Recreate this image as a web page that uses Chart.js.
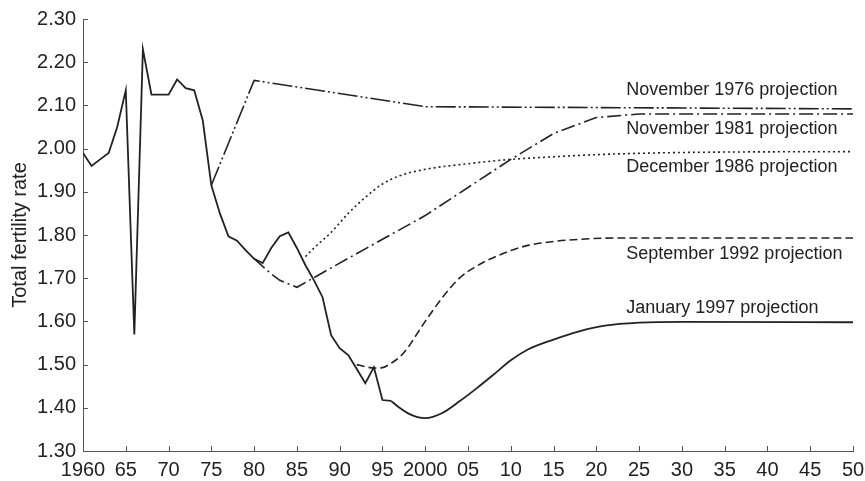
<!DOCTYPE html>
<html>
<head>
<meta charset="utf-8">
<script src="https://cdn.jsdelivr.net/npm/chart.js@4.4.1/dist/chart.umd.min.js"></script>
<style>
  html, body { margin: 0; padding: 0; background: #fff; }
  #wrap { width: 865px; height: 481px; }
</style>
</head>
<body>
<div id="wrap"><canvas id="tfrChart"></canvas></div>
<script>
// observed total fertility rate
var histYears = [1960, 1961, 1962, 1963, 1964, 1965, 1966, 1967, 1968, 1969, 1970, 1971, 1972, 1973, 1974, 1975, 1976, 1977, 1978, 1979,
  1980, 1981, 1982, 1983, 1984, 1985, 1986, 1987, 1988, 1989, 1990, 1991, 1992, 1993, 1994, 1995, 1996];
var histTFR = [1.99, 1.96, 1.975, 1.99, 2.05, 2.135, 1.57, 2.23, 2.125, 2.125, 2.125, 2.16, 2.14, 2.135, 2.065, 1.915, 1.85, 1.797, 1.787, 1.765,
  1.745, 1.735, 1.77, 1.797, 1.806, 1.77, 1.73, 1.695, 1.656, 1.568, 1.538, 1.522, 1.49, 1.457, 1.494, 1.418, 1.416];

// projections
var p1976Years = [1975, 1980, 2000, 2050];
var p1976TFR = [1.915, 2.158, 2.097, 2.092];

var p1981Years = [1980, 1982, 1983, 1985, 1990, 1995, 2000, 2005, 2010, 2015, 2020, 2025, 2050];
var p1981TFR = [1.745, 1.71, 1.695, 1.679, 1.735, 1.79, 1.845, 1.91, 1.975, 2.035, 2.072, 2.08, 2.08];

var p1986Years = [1986, 1987, 1989, 1991, 1993, 1995, 1997, 2000, 2005, 2010, 2015, 2020, 2030, 2050];
var p1986TFR = [1.75, 1.77, 1.806, 1.85, 1.887, 1.918, 1.937, 1.952, 1.965, 1.975, 1.981, 1.986, 1.991, 1.993];

var p1992Years = [1992, 1993, 1994, 1995, 1996, 1997, 1998, 1999, 2000, 2002, 2004, 2006, 2008, 2010, 2012, 2015, 2018, 2022, 2050];
var p1992TFR = [1.50, 1.495, 1.492, 1.493, 1.503, 1.517, 1.54, 1.57, 1.60, 1.655, 1.70, 1.728, 1.748, 1.764, 1.776, 1.785, 1.79, 1.793, 1.793];

var p1997Years = [1996, 1997, 1998, 1999, 2000, 2002, 2004, 2006, 2008, 2010, 2012, 2015, 2018, 2021, 2025, 2030, 2050];
var p1997TFR = [1.416, 1.40, 1.387, 1.379, 1.376, 1.388, 1.415, 1.445, 1.477, 1.51, 1.535, 1.558, 1.577, 1.59, 1.597, 1.599, 1.598];

var seriesNames = ['November 1976 projection', 'November 1981 projection', 'December 1986 projection',
  'September 1992 projection', 'January 1997 projection'];

function pts(xs, ys) {
  var out = [];
  for (var i = 0; i < xs.length; i++) {
    out.push({ x: xs[i], y: ys[i] });
  }
  return out;
}

var ink = '#222';
var fontFam = '"Liberation Sans", Arial, sans-serif';

// where the right-hand labels sit (year, rate)
var labelAnchors = [[2023.5, 2.136], [2023.5, 2.046], [2023.5, 1.958], [2023.5, 1.757], [2023.5, 1.63]];

var sideLabels = {
  id: 'sideLabels',
  afterDatasetsDraw: function(chart) {
    var c = chart.ctx, xs = chart.scales.x, ys = chart.scales.y;
    c.save();
    c.font = '18px ' + fontFam;
    c.fillStyle = ink;
    c.textBaseline = 'middle';
    c.textAlign = 'left';
    for (var i = 0; i < seriesNames.length; i++) {
      c.fillText(seriesNames[i], xs.getPixelForValue(labelAnchors[i][0]), ys.getPixelForValue(labelAnchors[i][1]));
    }
    c.restore();
  }
};

// small tick marks pointing into the plot
var innerTicks = {
  id: 'innerTicks',
  afterDraw: function(chart) {
    var c = chart.ctx, xs = chart.scales.x, ys = chart.scales.y, a = chart.chartArea;
    c.save();
    c.strokeStyle = '#555';
    c.lineWidth = 1;
    c.beginPath();
    xs.ticks.forEach(function(t) {
      var px = Math.round(xs.getPixelForValue(t.value)) + 0.5;
      c.moveTo(px, a.bottom);
      c.lineTo(px, a.bottom - 5);
    });
    ys.ticks.forEach(function(t) {
      var py = Math.round(ys.getPixelForValue(t.value)) + 0.5;
      c.moveTo(a.left, py);
      c.lineTo(a.left + 5, py);
    });
    c.stroke();
    c.restore();
  }
};

var base = { borderColor: ink, backgroundColor: ink, pointRadius: 0, fill: false };

var ctx = document.getElementById('tfrChart').getContext('2d');
var chart = new Chart(ctx, {
  type: 'line',
  data: {
    datasets: [
      Object.assign({ label: 'Actual', data: pts(histYears, histTFR), borderWidth: 1.8, tension: 0 }, base),
      Object.assign({ label: seriesNames[0], data: pts(p1976Years, p1976TFR), borderWidth: 1.6, tension: 0,
        borderDash: [20, 3, 2, 3, 2, 3] }, base),
      Object.assign({ label: seriesNames[1], data: pts(p1981Years, p1981TFR), borderWidth: 1.6, tension: 0,
        borderDash: [14, 4, 2, 4] }, base),
      Object.assign({ label: seriesNames[2], data: pts(p1986Years, p1986TFR), borderWidth: 1.6,
        cubicInterpolationMode: 'monotone', borderDash: [2, 3] }, base),
      Object.assign({ label: seriesNames[3], data: pts(p1992Years, p1992TFR), borderWidth: 1.6,
        cubicInterpolationMode: 'monotone', borderDash: [8, 4] }, base),
      Object.assign({ label: seriesNames[4], data: pts(p1997Years, p1997TFR), borderWidth: 1.8,
        cubicInterpolationMode: 'monotone' }, base)
    ]
  },
  options: {
    responsive: true,
    maintainAspectRatio: false,
    animation: false,
    layout: { padding: { top: 18, right: 12, left: 0, bottom: 0 } },
    plugins: {
      legend: { display: false },
      tooltip: { enabled: false }
    },
    scales: {
      x: {
        type: 'linear',
        min: 1960,
        max: 2050,
        afterFit: function(s) { s.height = 30; s.paddingLeft = 0; s.paddingRight = 0; },
        grid: { drawOnChartArea: false, drawTicks: false },
        border: { color: '#555', width: 1 },
        ticks: {
          stepSize: 5,
          autoSkip: false,
          padding: 7,
          color: ink,
          font: { family: fontFam, size: 20 },
          maxRotation: 0,
          callback: function(v) {
            if (v === 1960 || v === 2000) return String(v);
            var s = String(v % 100);
            return s.length < 2 ? '0' + s : s;
          }
        }
      },
      y: {
        min: 1.3,
        max: 2.3,
        afterFit: function(s) { s.width = 83; },
        grid: { drawOnChartArea: false, drawTicks: false },
        border: { color: '#555', width: 1 },
        ticks: {
          stepSize: 0.1,
          padding: 7,
          color: ink,
          font: { family: fontFam, size: 20 },
          callback: function(v) { return Number(v).toFixed(2); }
        },
        title: {
          display: true,
          text: 'Total fertility rate',
          color: ink,
          padding: { top: 8, bottom: 0 },
          font: { family: fontFam, size: 20 }
        }
      }
    }
  },
  plugins: [sideLabels, innerTicks]
});
</script>
</body>
</html>
